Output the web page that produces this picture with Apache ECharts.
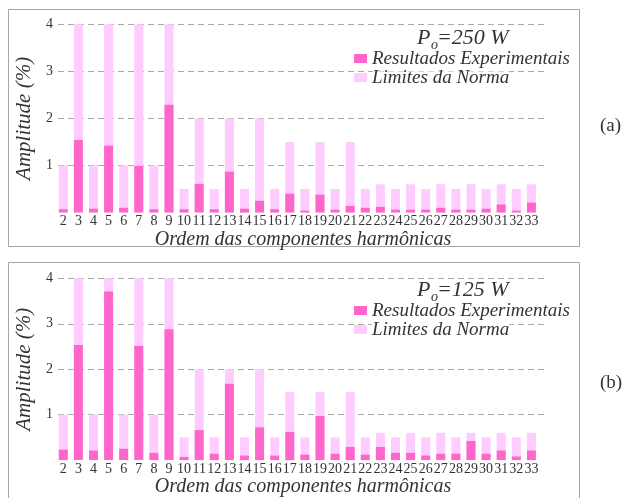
<!DOCTYPE html>
<html>
<head>
<meta charset="utf-8">
<script src="https://cdn.jsdelivr.net/npm/echarts@6/dist/echarts.min.js"></script>
<style>
  html, body { margin: 0; padding: 0; background: #fff; }
  #chart { width: 624px; height: 498px; }
</style>
</head>
<body>
<div id="chart"></div>
<script>
// Harmonic orders on the horizontal axis
const harmonics = [2, 3, 4, 5, 6, 7, 8, 9, 10, 11, 12, 13, 14, 15, 16, 17,
  18, 19, 20, 21, 22, 23, 24, 25, 26, 27, 28, 29, 30, 31, 32, 33];

// Standard limits (%) for each harmonic
const limitsNorma = [1, 4, 1, 4, 1, 4, 1, 4, 0.5, 2, 0.5, 2, 0.5, 2, 0.5, 1.5,
  0.5, 1.5, 0.5, 1.5, 0.5, 0.6, 0.5, 0.6, 0.5, 0.6, 0.5, 0.6, 0.5, 0.6, 0.5, 0.6];

// Measured harmonic amplitudes (%) at Po = 250 W
const results250 = [0.07, 1.54, 0.08, 1.42, 0.10, 0.99, 0.07, 2.29,
  0.07, 0.61, 0.07, 0.87, 0.08, 0.25, 0.07, 0.40, 0.04, 0.38, 0.06, 0.14,
  0.10, 0.12, 0.06, 0.06, 0.06, 0.10, 0.06, 0.06, 0.08, 0.17, 0.04, 0.21];

// Measured harmonic amplitudes (%) at Po = 125 W
const results125 = [0.23, 2.53, 0.21, 3.71, 0.25, 2.51, 0.16, 2.88,
  0.07, 0.66, 0.14, 1.68, 0.10, 0.72, 0.10, 0.62, 0.12, 0.97, 0.14, 0.29,
  0.12, 0.29, 0.16, 0.16, 0.10, 0.14, 0.14, 0.42, 0.14, 0.21, 0.08, 0.21];

const yTicks = [0, 1, 2, 3, 4];

const nameResults = 'Resultados Experimentais';
const nameLimits = 'Limites da Norma';
const darkPink = '#ff66cc';
const lightPink = '#ffccff';
const serif = 'Liberation Serif';
const textColor = '#333';

const pairs = vals => harmonics.map((h, i) => [h, vals[i]]);

function xAxisFor(gridIndex) {
  return {
    type: 'value', gridIndex: gridIndex, min: 1.65, max: 34.1,
    axisLine: { show: false }, axisTick: { show: false }, splitLine: { show: false },
    axisLabel: {
      customValues: harmonics, margin: 2,
      fontFamily: serif, fontSize: 14, color: textColor
    },
    name: 'Ordem das componentes harmônicas', nameLocation: 'middle', nameGap: 13,
    nameTextStyle: { fontFamily: serif, fontStyle: 'italic', fontSize: 20, color: textColor }
  };
}

function yAxisFor(gridIndex) {
  return {
    type: 'value', gridIndex: gridIndex, min: yTicks[0], max: yTicks[yTicks.length - 1], interval: 1,
    axisLine: { show: false }, axisTick: { show: false },
    axisLabel: {
      margin: 5, fontFamily: serif, fontSize: 14, color: textColor,
      formatter: v => (v === 0 ? '' : String(v))
    },
    splitLine: {
      show: true,
      lineStyle: { color: ['rgba(0,0,0,0)', '#aaa', '#aaa', '#aaa', '#aaa'], type: [6, 4], width: 1.2 }
    },
    name: 'Amplitude (%)', nameLocation: 'middle', nameGap: 22, nameRotate: 90,
    nameTextStyle: { fontFamily: serif, fontStyle: 'italic', fontSize: 21, color: textColor }
  };
}

function seriesFor(idx, results) {
  return [
    {
      name: nameLimits, type: 'bar', xAxisIndex: idx, yAxisIndex: idx,
      barWidth: 9, barGap: '-100%', clip: false,
      itemStyle: { color: lightPink },
      data: pairs(limitsNorma)
    },
    {
      name: nameResults, type: 'bar', xAxisIndex: idx, yAxisIndex: idx,
      barWidth: 9, barGap: '-100%', clip: false,
      itemStyle: { color: darkPink },
      data: pairs(results)
    }
  ];
}

function legendFor(top) {
  return {
    orient: 'vertical', left: 354, top: top, padding: 0,
    itemWidth: 13, itemHeight: 9, itemGap: 0,
    icon: 'rect',
    data: [
      { name: nameResults },
      // the lower entry hides the dashed grid line behind its text
      { name: nameLimits, textStyle: { backgroundColor: '#fff', lineHeight: 12 } }
    ],
    selectedMode: false,
    textStyle: {
      fontFamily: serif, fontStyle: 'italic', fontSize: 19, color: textColor,
      lineHeight: 15.5
    }
  };
}

// Power rating heading with subscript "o"
function powerLabel(y, watts) {
  const st = (text, size) => ({ text: text, fontFamily: serif, fontStyle: 'italic', fontSize: size, fill: textColor });
  return [
    { type: 'text', left: 417, top: y, style: st('P', 22) },
    { type: 'text', left: 431, top: y + 11, style: st('o', 14) },
    { type: 'text', left: 437, top: y, style: st('=' + watts + ' W', 22) }
  ];
}

const chart = echarts.init(document.getElementById('chart'), null, { renderer: 'canvas' });

chart.setOption({
  animation: false,
  backgroundColor: '#fff',
  grid: [
    { left: 58, right: 76, top: 24.3, height: 188.2 },
    { left: 58, right: 76, top: 278.3, height: 188 }
  ],
  xAxis: [xAxisFor(0), xAxisFor(1)],
  yAxis: [yAxisFor(0), yAxisFor(1)],
  legend: [legendFor(49), legendFor(301)],
  series: seriesFor(0, results250).concat(seriesFor(1, results125)),
  graphic: [
    { type: 'rect', shape: { x: 8.5, y: 9.5, width: 571, height: 237 }, style: { fill: null, stroke: '#a6a6a6', lineWidth: 1 }, z: -1 },
    { type: 'rect', shape: { x: 8.5, y: 262.5, width: 571, height: 240 }, style: { fill: null, stroke: '#a6a6a6', lineWidth: 1 }, z: -1 },
    { type: 'text', left: 600, top: 117, style: { text: '(a)', fontFamily: serif, fontSize: 19, fill: textColor } },
    { type: 'text', left: 600, top: 374, style: { text: '(b)', fontFamily: serif, fontSize: 19, fill: textColor } }
  ].concat(powerLabel(27, 250), powerLabel(279, 125))
});
</script>
</body>
</html>
